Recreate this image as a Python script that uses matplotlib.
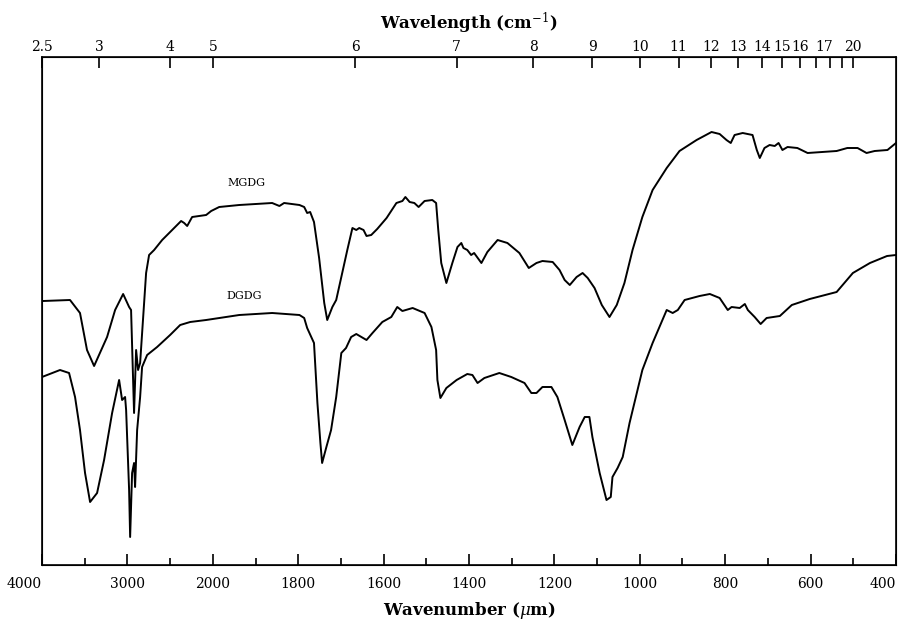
import numpy as np
import matplotlib
matplotlib.use("Agg")
import matplotlib.pyplot as plt

plt.rcParams["font.family"] = "DejaVu Serif"
plt.rcParams["mathtext.fontset"] = "dejavuserif"

# wavenumbers (cm-1) and transmittance (arbitrary units)
mgdg_wn = [3988, 3672, 3555, 3473, 3390, 3238, 3144, 3050, 2980, 2957, 2922, 2898,
           2875, 2851, 2781, 2746, 2687, 2593, 2476, 2371, 2335, 2300, 2242, 2078,
           2019, 1985, 1938, 1861, 1844, 1833, 1797, 1786, 1779, 1772, 1763, 1751,
           1739, 1732, 1720, 1711, 1699, 1685, 1673, 1664, 1657, 1647, 1640, 1629,
           1615, 1593, 1570, 1556, 1549, 1539, 1528, 1518, 1504, 1486, 1477, 1472,
           1465, 1453, 1439, 1427, 1418, 1413, 1404, 1395, 1388, 1371, 1357, 1333,
           1310, 1282, 1260, 1242, 1228, 1204, 1188, 1176, 1164, 1148, 1134, 1122,
           1106, 1089, 1071, 1054, 1036, 1017, 994, 970, 937, 907, 867, 832, 813,
           797, 787, 778, 759, 736, 726, 719, 708, 696, 684, 675, 666, 654, 631,
           607, 539, 514, 490, 469, 450, 420, 400]
mgdg_t = [264, 265, 252, 215, 199, 228, 255, 271, 258, 255, 152, 215,
          195, 202, 292, 310, 315, 325, 335, 344, 342, 339, 348, 350,
          354, 358, 360, 362, 359, 362, 360, 358, 352, 353, 343, 307,
          262, 245, 258, 265, 288, 315, 337, 335, 337, 335, 329, 330,
          336, 347, 362, 364, 368, 363, 362, 358, 364, 365, 362, 335,
          302, 282, 302, 318, 322, 317, 315, 310, 312, 302, 313, 325,
          322, 312, 297, 302, 304, 303, 295, 285, 280, 288, 292, 287,
          277, 260, 248, 260, 282, 315, 348, 375, 397, 414, 425, 433, 431,
          425, 422, 430, 432, 430, 415, 407, 417, 420, 419, 422, 415, 418, 417,
          412, 414, 417, 417, 412, 414, 415, 422]

dgdg_wn = [4000, 3789, 3683, 3613, 3555, 3496, 3437, 3355, 3273, 3179, 3097, 3062,
           3027, 3015, 2980, 2968, 2945, 2922, 2910, 2886, 2851, 2828, 2769, 2652,
           2500, 2382, 2265, 2078, 1938, 1861, 1797, 1786, 1779, 1763, 1755, 1748,
           1744, 1734, 1723, 1711, 1699, 1688, 1676, 1664, 1640, 1626, 1603, 1582,
           1568, 1556, 1532, 1504, 1488, 1477, 1474, 1467, 1453, 1429, 1404, 1392,
           1380, 1364, 1329, 1301, 1270, 1254, 1242, 1228, 1207, 1193, 1176, 1158,
           1141, 1129, 1118, 1111, 1094, 1078, 1068, 1064, 1052, 1040, 1024, 994,
           970, 937, 923, 911, 895, 860, 836, 813, 794, 785, 766, 754, 747, 731,
           717, 703, 672, 644, 602, 539, 501, 461, 421, 400]
dgdg_t = [188, 195, 192, 168, 135, 92, 63, 72, 105, 152, 185, 165,
          168, 155, 75, 28, 92, 102, 78, 135, 168, 198, 210, 218,
          230, 240, 243, 245, 250, 252, 250, 247, 237, 222, 162, 122,
          102, 118, 135, 168, 212, 217, 228, 231, 225, 232, 243, 248,
          258, 254, 257, 252, 238, 215, 185, 167, 177, 185, 191, 190,
          182, 187, 192, 188, 182, 172, 172, 178, 178, 168, 145, 120,
          138, 148, 148, 128, 92, 65, 68, 88, 97, 108, 142, 195,
          222, 255, 252, 255, 265, 269, 271, 267, 255, 258, 257, 261, 255, 248,
          241, 247, 249, 260, 266, 273, 292, 302, 309, 310]

major_wn = [4000, 3000, 2000, 1800, 1600, 1400, 1200, 1000, 800, 600, 400]
minor_wn = [3500, 2500, 1900, 1700, 1500, 1300, 1100, 900, 700, 500]
wavelengths = [2.5, 3, 4, 5, 6, 7, 8, 9, 10, 11, 12, 13, 14, 15, 16, 17, 18, 19, 20]
wl_labels = ["2.5", "3", "4", "5", "6", "7", "8", "9", "10", "11", "12", "13",
             "14", "15", "16", "17", "", "", "20"]


# grating change at 2000 cm-1: 1000 cm-1 per division above, 200 below
def fwd(w):
    w = np.asarray(w, dtype=float)
    return np.where(w >= 2000, 8 + (w - 2000) / 1000.0, (w - 400) / 200.0)


def inv(p):
    p = np.asarray(p, dtype=float)
    return np.where(p >= 8, 2000 + 1000.0 * (p - 8), 400 + 200.0 * p)


fig = plt.figure(figsize=(9.01, 6.23), dpi=100)
ax = fig.add_axes([42 / 901, 58 / 623, 854 / 901, 508 / 623])
ax.set_xscale("function", functions=(fwd, inv))
ax.set_xlim(4000, 400)
ax.set_ylim(0, 508)

ax.plot(mgdg_wn, mgdg_t, color="black", lw=1.4)
ax.plot(dgdg_wn, dgdg_t, color="black", lw=1.4)
ax.text(1922, 382, "MGDG", fontsize=8, ha="center", va="center")
ax.text(1926, 269, "DGDG", fontsize=8, ha="center", va="center")

ax.set_xticks(major_wn)
ax.set_xticklabels([str(v) for v in major_wn])
ax.set_xticks(minor_wn, minor=True)
ax.tick_params(axis="x", which="major", direction="in", length=8, width=1.2,
               labelsize=10, pad=9)
ax.tick_params(axis="x", which="minor", direction="in", length=5, width=1.2)
ax.set_yticks([])
for s in ax.spines.values():
    s.set_linewidth(1.2)
ax.set_xlabel(r"Wavenumber ($\mu$m)", fontsize=12, fontweight="bold", labelpad=6)

# end labels sit inside the figure like the original print
bottom_labels = ax.get_xticklabels()
bottom_labels[0].set_horizontalalignment("right")
bottom_labels[-1].set_horizontalalignment("right")

ax2 = ax.twiny()
ax2.set_xscale("function", functions=(fwd, inv))
ax2.set_xlim(4000, 400)
ax2.set_xticks([1e4 / l for l in wavelengths])
ax2.set_xticklabels(wl_labels)
ax2.xaxis.set_minor_locator(matplotlib.ticker.NullLocator())
ax2.tick_params(axis="x", direction="in", length=8, width=1.2, labelsize=10,
                pad=2)
ax2.set_xlabel(r"Wavelength (cm$^{-1}$)", fontsize=12, fontweight="bold",
               labelpad=8)
top_labels = ax2.get_xticklabels()
top_labels[wl_labels.index("17")].set_horizontalalignment("left")

fig.savefig("out.png", dpi=100)
